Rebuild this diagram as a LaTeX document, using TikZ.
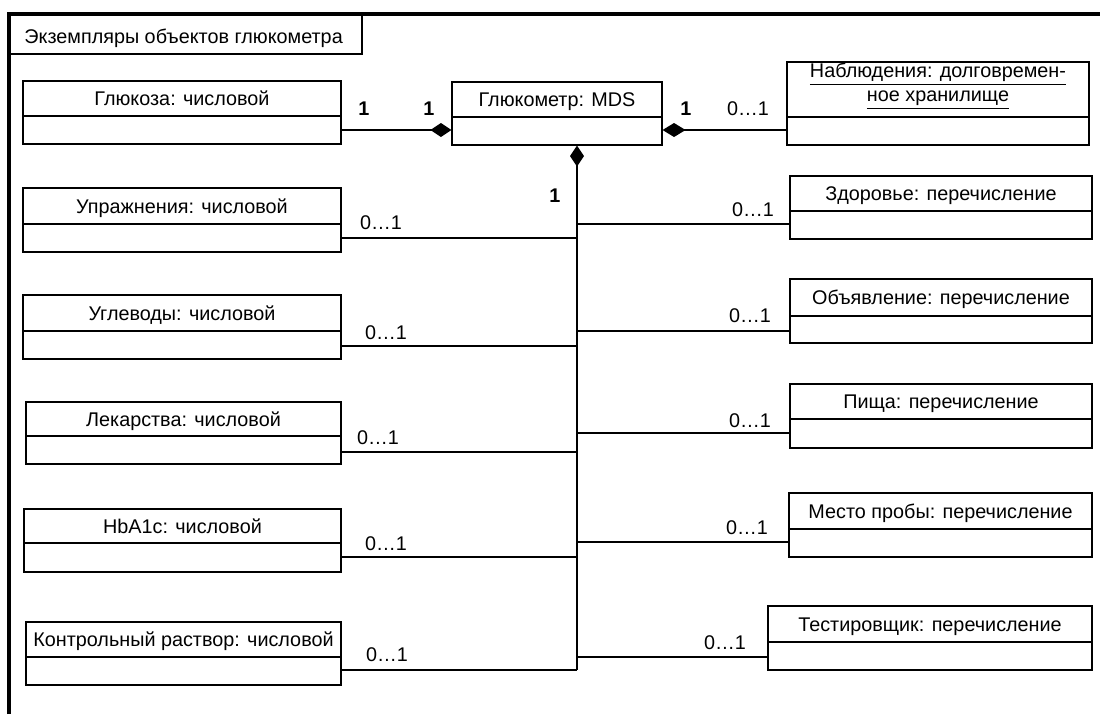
\documentclass[tikz,border=0pt]{standalone}
\usepackage{fontspec}
\setmainfont{Liberation Sans}
\usetikzlibrary{arrows.meta,fit}
\tikzset{
  objbox/.style={draw, line width=0.55pt, inner sep=0pt},
  boxline/.style={line width=0.55pt},
  objtext/.style={anchor=base, inner sep=0pt, font=\fontsize{9.9}{11.8}\selectfont},
  lbl/.style={anchor=center, inner sep=0pt, font=\fontsize{9.9}{11.8}\selectfont},
  blbl/.style={anchor=center, inner sep=0pt, font=\fontsize{9.9}{11.8}\selectfont\bfseries},
  branch/.style={line width=0.7pt},
  mainline/.style={line width=1.1pt},
  comp/.style={-{Diamond[length=10.5pt,width=7pt]}},
  rcomp/.style={{Diamond[length=11.5pt,width=7pt]}-},
}
\newcommand{\umlobj}[7]{%
  \node[objbox, fit={(#2,#3) (#4,#5)}] (#1) {};
  \draw[boxline] (#1.west |- #2,#6) -- (#1.east |- #2,#6);
  \node[objtext] (#1-name) at ({(#2+#4)/2},{(#3+#6)/2+7}) {#7};
}
\begin{document}
\begin{tikzpicture}[x=0.5pt,y=-0.5pt]
\useasboundingbox (0,0) rectangle (1100,714);
% frame
\draw[line width=2.4pt] (9,714) -- (9,14) -- (1100,14);
\node[objbox, fit={(9,14) (362,54)}] (title) {};
\node[objtext, anchor=base west] (title-name) at (24,43) {Экземпляры объектов глюкометра};

% objects
\umlobj{gluc}{23}{81}{341}{144}{116}{Глюкоза: числовой}
\umlobj{glm}{452}{82}{662}{145}{117}{Глюкометр: MDS}
\node[objbox, fit={(787,62) (1089,145)}] (obs) {};
\draw[boxline] (obs.west |- 0,117) -- (obs.east |- 0,117);
\node[lbl, align=center, font=\fontsize{9.9}{12}\selectfont] (obs-name) at (938,86)
  {\underline{Наблюдения: долговремен-}\\\underline{ное хранилище}};

\umlobj{ex}{23}{188}{341}{252}{224}{Упражнения: числовой}
\umlobj{carb}{23}{295}{341}{359}{331}{Углеводы: числовой}
\umlobj{med}{26}{402}{341}{464}{436}{Лекарства: числовой}
\umlobj{hba}{24}{509}{341}{572}{543}{HbA1c: числовой}
\umlobj{ctrl}{26}{622}{341}{685}{657}{Контрольный раствор: числовой}

\umlobj{hlth}{790}{176}{1092}{239}{211}{Здоровье: перечисление}
\umlobj{ann}{790}{279}{1092}{343}{316}{Объявление: перечисление}
\umlobj{food}{790}{384}{1092}{448}{419}{Пища: перечисление}
\umlobj{site}{789}{493}{1092}{557}{529}{Место пробы: перечисление}
\umlobj{tst}{768}{606}{1092}{670}{642}{Тестировщик: перечисление}

% bus
\coordinate (bustop) at (577,166);
\coordinate (busbot) at (577,670);

% compositions
\draw[mainline, comp] (gluc.east |- 0,130) -- (glm.west |- 0,130);
\draw[mainline, rcomp] (glm.east |- 0,130) -- (obs.west |- 0,130);
\draw[mainline, comp] (busbot) -- (glm.south -| bustop);

% branches
\draw[branch] (ex.east |- 0,238) -- (bustop |- 0,238);
\draw[branch] (carb.east |- 0,346) -- (bustop |- 0,346);
\draw[branch] (med.east |- 0,452) -- (bustop |- 0,452);
\draw[branch] (hba.east |- 0,557) -- (bustop |- 0,557);
\draw[branch] (ctrl.east |- 0,670) -- (busbot);
\draw[branch] (bustop |- 0,224) -- (hlth.west |- 0,224);
\draw[branch] (bustop |- 0,331) -- (ann.west |- 0,331);
\draw[branch] (bustop |- 0,433) -- (food.west |- 0,433);
\draw[branch] (bustop |- 0,542) -- (site.west |- 0,542);
\draw[branch] (bustop |- 0,657) -- (tst.west |- 0,657);

% multiplicities
\node[blbl] (m1) at (364,109) {1};
\node[blbl] (m2) at (429,109) {1};
\node[blbl] (m3) at (686,109) {1};
\node[lbl] (m4) at (748,109) {0…1};
\node[blbl] (m5) at (555,196) {1};

\node[lbl] (l1) at (381,223) {0…1};
\node[lbl] (l2) at (386,333) {0…1};
\node[lbl] (l3) at (378,438) {0…1};
\node[lbl] (l4) at (386,544) {0…1};
\node[lbl] (l5) at (387,655) {0…1};

\node[lbl] (r1) at (753,210) {0…1};
\node[lbl] (r2) at (750,316) {0…1};
\node[lbl] (r3) at (750,421) {0…1};
\node[lbl] (r4) at (747,528) {0…1};
\node[lbl] (r5) at (725,643) {0…1};
\end{tikzpicture}
\end{document}
